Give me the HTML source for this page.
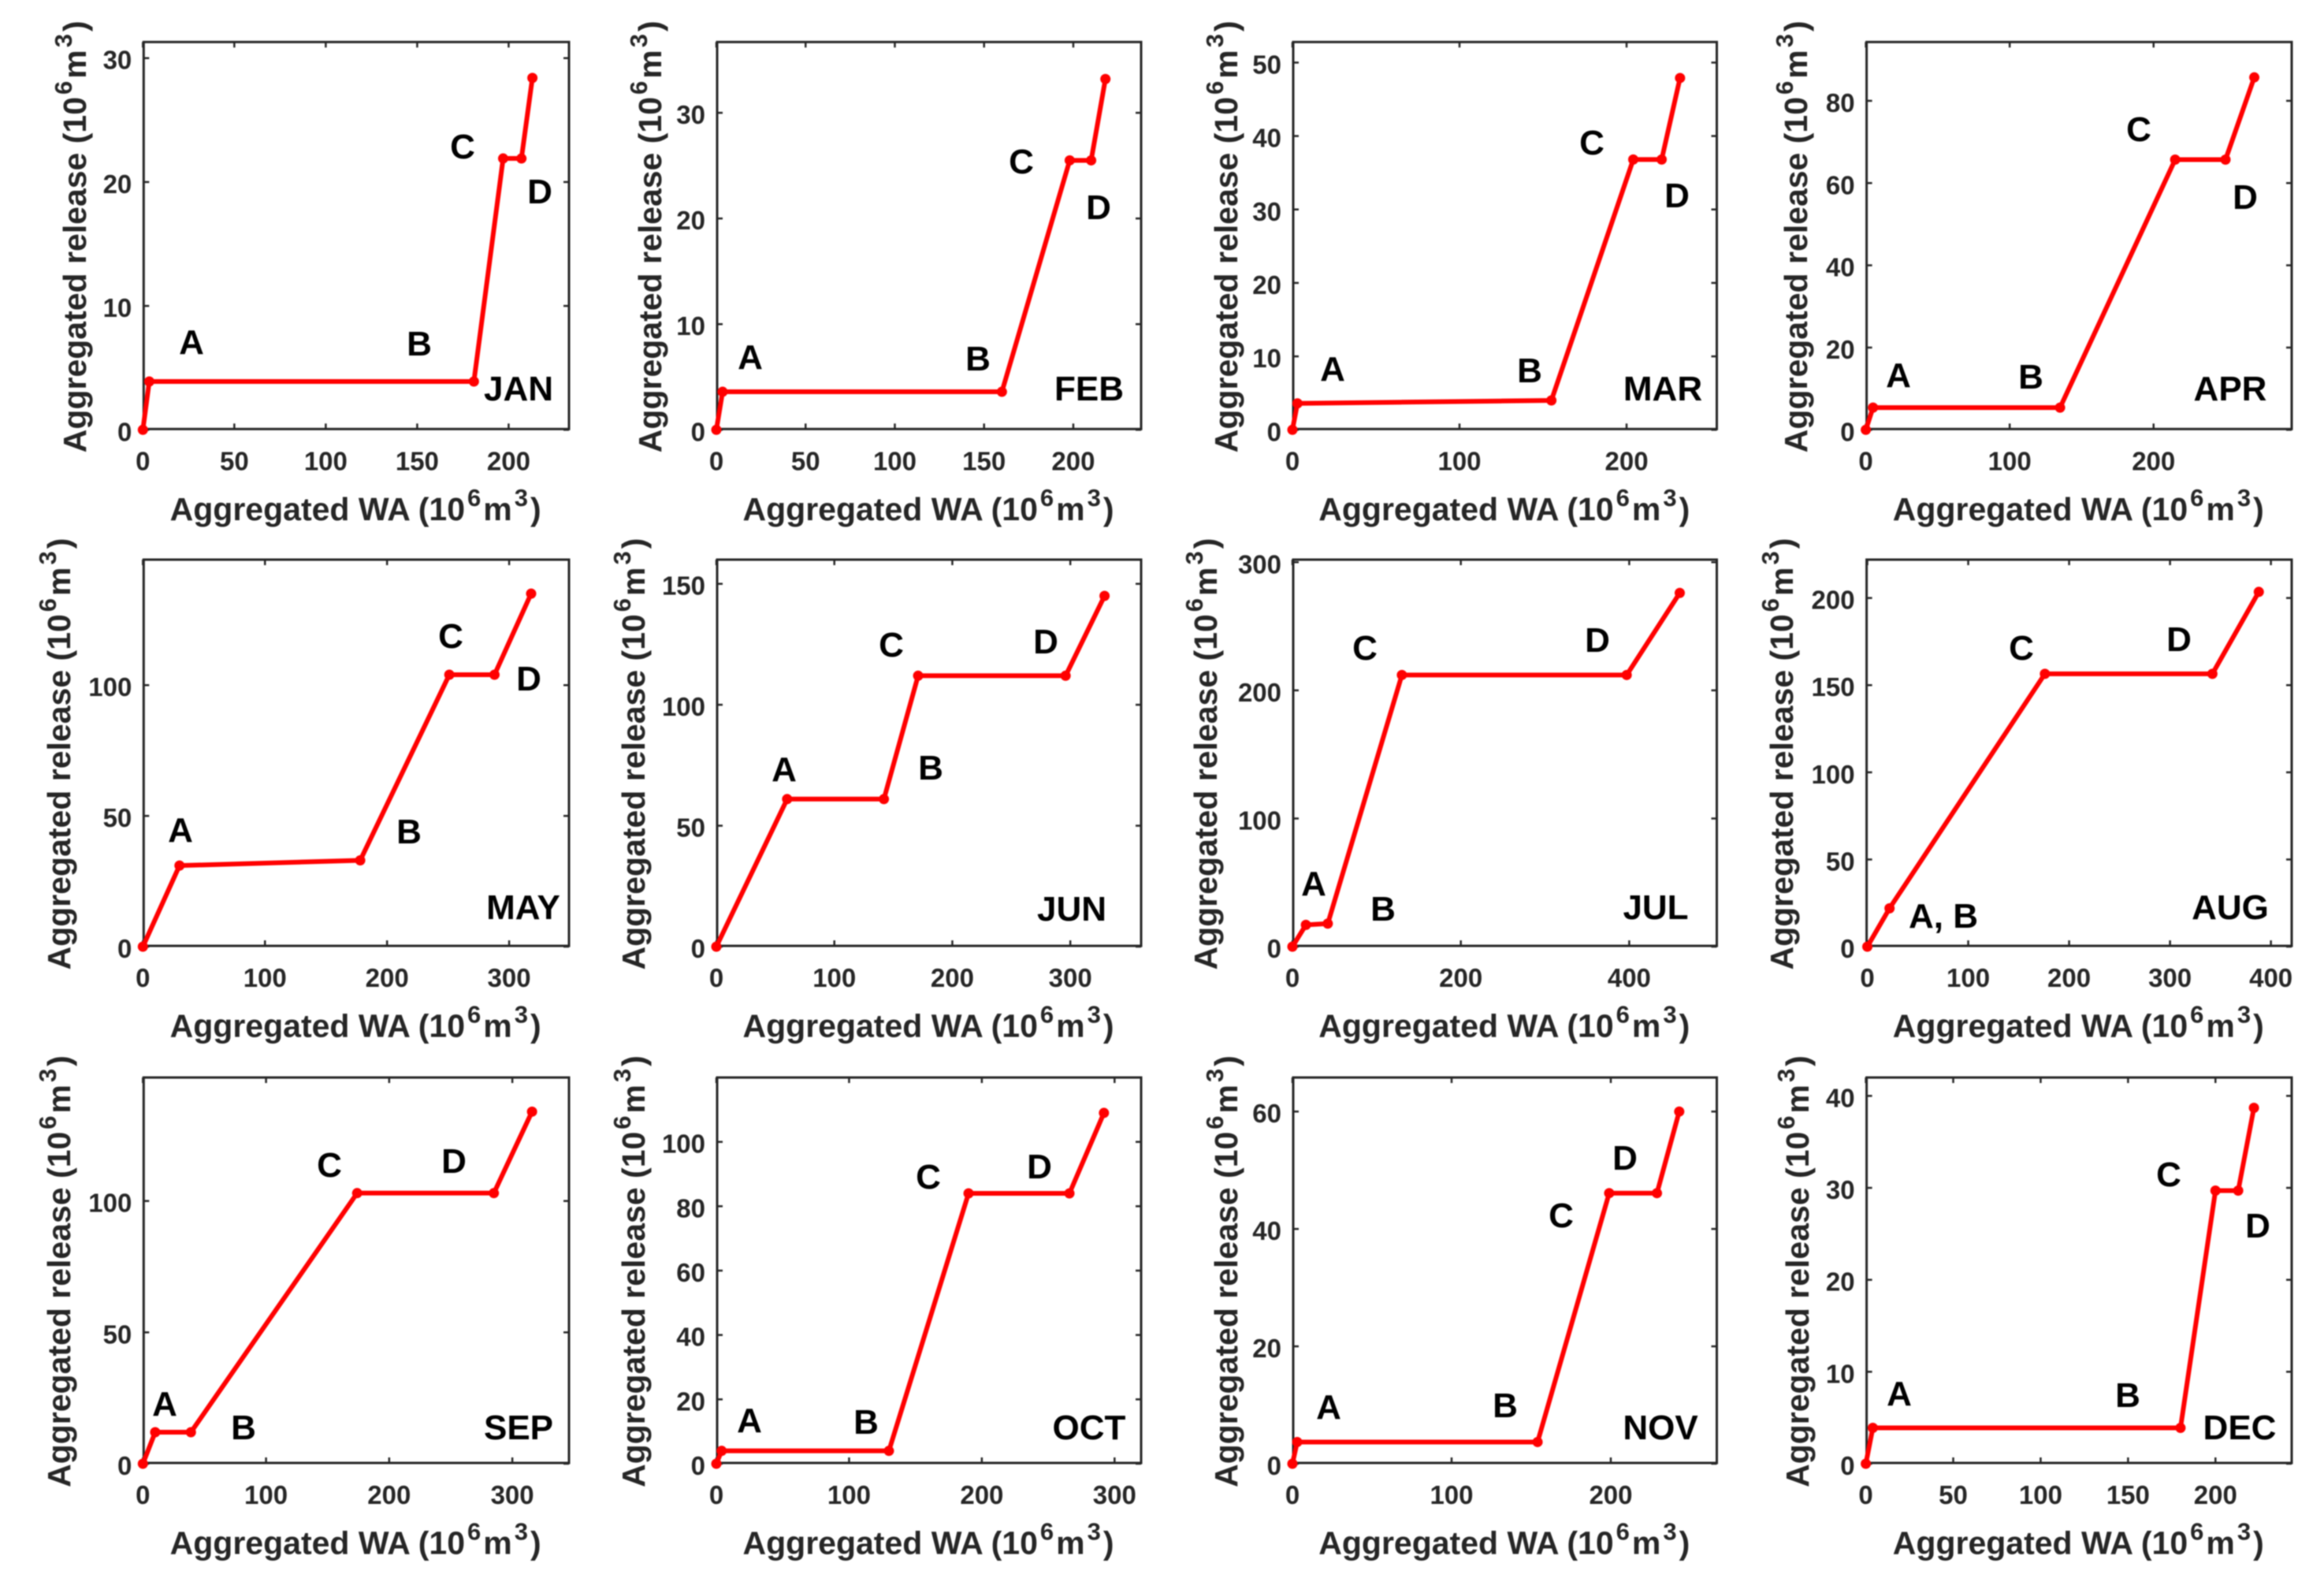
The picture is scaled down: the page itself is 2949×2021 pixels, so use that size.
<!DOCTYPE html>
<html lang="en">
<head>
<meta charset="utf-8">
<title>Aggregated release vs aggregated WA by month</title>
<style>
html,body{margin:0;padding:0;background:#fff;width:2949px;height:2021px;overflow:hidden}
svg{display:block;filter:blur(0.8px)}
text{font-family:"Liberation Sans",Arial,sans-serif;font-weight:700}
.tick{font-size:33px;fill:#262626}
.title{font-size:41px;fill:#262626}
.note{font-size:44px;fill:#000;text-anchor:middle}
</style>
</head>
<body>
<svg id="figure" xmlns="http://www.w3.org/2000/svg" width="2949" height="2021" viewBox="0 0 2949 2021">
<rect x="0" y="0" width="2949" height="2021" fill="#fff"/>
<g id="charts"></g>
<g>
<text class="note" x="243" y="449">A</text>
<text class="note" x="532" y="451">B</text>
<text class="note" x="587" y="201">C</text>
<text class="note" x="685" y="258">D</text>
<text class="note" x="658" y="508">JAN</text>
</g>
<g>
<text class="note" x="952" y="468">A</text>
<text class="note" x="1241" y="470">B</text>
<text class="note" x="1296" y="220">C</text>
<text class="note" x="1394" y="278">D</text>
<text class="note" x="1382" y="508">FEB</text>
</g>
<g>
<text class="note" x="1691" y="483">A</text>
<text class="note" x="1941" y="485">B</text>
<text class="note" x="2020" y="196">C</text>
<text class="note" x="2128" y="263">D</text>
<text class="note" x="2110" y="508">MAR</text>
</g>
<g>
<text class="note" x="2409" y="491">A</text>
<text class="note" x="2577" y="493">B</text>
<text class="note" x="2714" y="179">C</text>
<text class="note" x="2849" y="265">D</text>
<text class="note" x="2830" y="508">APR</text>
</g>
<g>
<text class="note" x="229" y="1068">A</text>
<text class="note" x="519" y="1070">B</text>
<text class="note" x="572" y="822">C</text>
<text class="note" x="671" y="876">D</text>
<text class="note" x="664" y="1166">MAY</text>
</g>
<g>
<text class="note" x="995" y="991">A</text>
<text class="note" x="1181" y="989">B</text>
<text class="note" x="1131" y="833">C</text>
<text class="note" x="1327" y="829">D</text>
<text class="note" x="1360" y="1168">JUN</text>
</g>
<g>
<text class="note" x="1667" y="1136">A</text>
<text class="note" x="1755" y="1168">B</text>
<text class="note" x="1732" y="837">C</text>
<text class="note" x="2027" y="827">D</text>
<text class="note" x="2101" y="1166">JUL</text>
</g>
<g>
<text class="note" x="2466" y="1177">A, B</text>
<text class="note" x="2565" y="837">C</text>
<text class="note" x="2765" y="826">D</text>
<text class="note" x="2830" y="1166">AUG</text>
</g>
<g>
<text class="note" x="209" y="1796">A</text>
<text class="note" x="309" y="1826">B</text>
<text class="note" x="418" y="1493">C</text>
<text class="note" x="576" y="1488">D</text>
<text class="note" x="658" y="1826">SEP</text>
</g>
<g>
<text class="note" x="951" y="1817">A</text>
<text class="note" x="1099" y="1819">B</text>
<text class="note" x="1178" y="1508">C</text>
<text class="note" x="1319" y="1495">D</text>
<text class="note" x="1382" y="1826">OCT</text>
</g>
<g>
<text class="note" x="1686" y="1800">A</text>
<text class="note" x="1910" y="1798">B</text>
<text class="note" x="1981" y="1557">C</text>
<text class="note" x="2062" y="1484">D</text>
<text class="note" x="2107" y="1826">NOV</text>
</g>
<g>
<text class="note" x="2410" y="1783">A</text>
<text class="note" x="2700" y="1785">B</text>
<text class="note" x="2752" y="1505">C</text>
<text class="note" x="2865" y="1570">D</text>
<text class="note" x="2842" y="1826">DEC</text>
</g>
</svg>
<script>
// Series values
const janX = [0, 3.5, 181, 197, 207, 213];
const janY = [0, 3.9, 3.9, 21.9, 21.9, 28.4];
const janXTicks = [0, 50, 100, 150, 200];
const janYTicks = [0, 10, 20, 30];
const janXLim = [0, 233];
const janYLim = [0, 31.3];

const febX = [0, 3.5, 160, 198, 210, 218];
const febY = [0, 3.6, 3.6, 25.5, 25.5, 33.2];
const febXTicks = [0, 50, 100, 150, 200];
const febYTicks = [0, 10, 20, 30];
const febXLim = [0, 238];
const febYLim = [0, 36.7];

const marX = [0, 3, 155, 204, 221, 232];
const marY = [0, 3.6, 4, 36.8, 36.8, 47.9];
const marXTicks = [0, 100, 200];
const marYTicks = [0, 10, 20, 30, 40, 50];
const marXLim = [0, 254];
const marYLim = [0, 52.8];

const aprX = [0, 5, 135, 215, 250, 270];
const aprY = [0, 5.4, 5.4, 65.7, 65.7, 85.7];
const aprXTicks = [0, 100, 200];
const aprYTicks = [0, 20, 40, 60, 80];
const aprXLim = [0, 296];
const aprYLim = [0, 94.3];

const mayX = [0, 30, 178, 251, 288, 318];
const mayY = [0, 31, 33, 104, 104, 135];
const mayXTicks = [0, 100, 200, 300];
const mayYTicks = [0, 50, 100];
const mayXLim = [0, 349];
const mayYLim = [0, 148];

const junX = [0, 60, 142, 171, 296, 329];
const junY = [0, 61, 61, 112, 112, 145];
const junXTicks = [0, 100, 200, 300];
const junYTicks = [0, 50, 100, 150];
const junXLim = [0, 360];
const junYLim = [0, 160];

const julX = [0, 16, 42, 130, 397, 460];
const julY = [0, 17, 18, 212, 212, 276];
const julXTicks = [0, 200, 400];
const julYTicks = [0, 100, 200, 300];
const julXLim = [0, 504];
const julYLim = [0, 302];

const augX = [0, 22, 176, 342, 388];
const augY = [0, 22, 156.5, 156.5, 203.5];
const augXTicks = [0, 100, 200, 300, 400];
const augYTicks = [0, 50, 100, 150, 200];
const augXLim = [-1.5, 420.6];
const augYLim = [0, 222];

const sepX = [0, 10, 39, 174, 285, 316];
const sepY = [0, 12, 12, 103, 103, 134];
const sepXTicks = [0, 100, 200, 300];
const sepYTicks = [0, 50, 100];
const sepXLim = [0, 346];
const sepYLim = [0, 147];

const octX = [0, 4, 130, 190, 266, 292];
const octY = [0, 4, 4, 84, 84, 109];
const octXTicks = [0, 100, 200, 300];
const octYTicks = [0, 20, 40, 60, 80, 100];
const octXLim = [0, 320];
const octYLim = [0, 120];

const novX = [0, 3, 154, 199, 229, 243];
const novY = [0, 3.7, 3.7, 46.1, 46.1, 60];
const novXTicks = [0, 100, 200];
const novYTicks = [0, 20, 40, 60];
const novXLim = [0, 266.6];
const novYLim = [0, 65.8];

const decX = [0, 4, 180, 200, 213, 222];
const decY = [0, 3.9, 3.9, 29.7, 29.7, 38.7];
const decXTicks = [0, 50, 100, 150, 200];
const decYTicks = [0, 10, 20, 30, 40];
const decXLim = [0, 243.6];
const decYLim = [0, 42];

const panels = [
  {m:'jan',x:janX,y:janY,xt:janXTicks,yt:janYTicks,xl:janXLim,yl:janYLim,c:0,r:0,t:109},
  {m:'feb',x:febX,y:febY,xt:febXTicks,yt:febYTicks,xl:febXLim,yl:febYLim,c:1,r:0,t:839},
  {m:'mar',x:marX,y:marY,xt:marXTicks,yt:marYTicks,xl:marXLim,yl:marYLim,c:2,r:0,t:1570},
  {m:'apr',x:aprX,y:aprY,xt:aprXTicks,yt:aprYTicks,xl:aprXLim,yl:aprYLim,c:3,r:0,t:2293},
  {m:'may',x:mayX,y:mayY,xt:mayXTicks,yt:mayYTicks,xl:mayXLim,yl:mayYLim,c:0,r:1,t:89},
  {m:'jun',x:junX,y:junY,xt:junXTicks,yt:junYTicks,xl:junXLim,yl:junYLim,c:1,r:1,t:818},
  {m:'jul',x:julX,y:julY,xt:julXTicks,yt:julYTicks,xl:julXLim,yl:julYLim,c:2,r:1,t:1544},
  {m:'aug',x:augX,y:augY,xt:augXTicks,yt:augYTicks,xl:augXLim,yl:augYLim,c:3,r:1,t:2275},
  {m:'sep',x:sepX,y:sepY,xt:sepXTicks,yt:sepYTicks,xl:sepXLim,yl:sepYLim,c:0,r:2,t:89},
  {m:'oct',x:octX,y:octY,xt:octXTicks,yt:octYTicks,xl:octXLim,yl:octYLim,c:1,r:2,t:818},
  {m:'nov',x:novX,y:novY,xt:novXTicks,yt:novYTicks,xl:novXLim,yl:novYLim,c:2,r:2,t:1570},
  {m:'dec',x:decX,y:decY,xt:decXTicks,yt:decYTicks,xl:decXLim,yl:decYLim,c:3,r:2,t:2295}
];

const colLeft = [182.3, 910, 1641, 2368.6];
const colRight = [722, 1448, 2178.5, 2908];
const rowTop = [53.3, 710, 1367];
const rowBottom = [544.3, 1200, 1856];

const NS = 'http://www.w3.org/2000/svg';
const root = document.getElementById('charts');

function make(parent, tag, attrs) {
  const el = document.createElementNS(NS, tag);
  for (const k in attrs) el.setAttribute(k, attrs[k]);
  parent.appendChild(el);
  return el;
}

function addSpan(parent, str, dx, dy, small) {
  const s = document.createElementNS(NS, 'tspan');
  if (dx) s.setAttribute('dx', dx);
  if (dy) s.setAttribute('dy', dy);
  if (small) s.setAttribute('font-size', '31');
  s.textContent = str;
  parent.appendChild(s);
}

function fillUnits(textEl, lead) {
  addSpan(textEl, lead + ' (10', 0, 0, false);
  addSpan(textEl, '6', 3, -18, true);
  addSpan(textEl, 'm', 3, 18, false);
  addSpan(textEl, '3', 3, -18, true);
  addSpan(textEl, ')', 3, 18, false);
}

panels.forEach(function (p) {
  const L = colLeft[p.c], R = colRight[p.c], T = rowTop[p.r], B = rowBottom[p.r];
  // Origin of the data frame sits about a pixel outside the drawn box in the source image
  const x0 = L - 1, y0 = B + 1;
  const sx = function (v) { return x0 + (v - p.xl[0]) / (p.xl[1] - p.xl[0]) * (R - x0); };
  const sy = function (v) { return y0 - (v - p.yl[0]) / (p.yl[1] - p.yl[0]) * (y0 - T); };

  const g = make(root, 'g', {});
  
  

  const box = make(g, 'rect', {x: L, y: T, width: R - L, height: B - T, fill: '#fff', stroke: '#262626', 'stroke-width': 3});
  
  

  p.xt.forEach(function (v) {
    const x = sx(v);
    const t1 = make(g, 'line', {x1: x, x2: x, y1: B, y2: B - 7, stroke: '#262626', 'stroke-width': 2.5});
    
    
    const t2 = make(g, 'line', {x1: x, x2: x, y1: T, y2: T + 7, stroke: '#262626', 'stroke-width': 2.5});
    
    
    const lab = make(g, 'text', {class: 'tick', x: x, y: B + 52, 'text-anchor': 'middle'});
    
    
    lab.textContent = v;
  });

  p.yt.forEach(function (v) {
    const y = sy(v);
    const t1 = make(g, 'line', {x1: L, x2: L + 7, y1: y, y2: y, stroke: '#262626', 'stroke-width': 2.5});
    
    
    const t2 = make(g, 'line', {x1: R, x2: R - 7, y1: y, y2: y, stroke: '#262626', 'stroke-width': 2.5});
    
    
    const lab = make(g, 'text', {class: 'tick', x: L - 15, y: y + 14, 'text-anchor': 'end'});
    
    
    lab.textContent = v;
  });

  const pts = p.x.map(function (v, i) { return sx(v) + ',' + sy(p.y[i]); }).join(' ');
  const line = make(g, 'polyline', {points: pts, fill: 'none', stroke: '#ff0000', 'stroke-width': 6, 'stroke-linejoin': 'round'});
  
  

  p.x.forEach(function (v, i) {
    const dot = make(g, 'circle', {cx: sx(v), cy: sy(p.y[i]), r: 6.5, fill: '#ff0000'});
    
    
  });

  const xt = make(g, 'text', {class: 'title', x: (L + R) / 2 - 1, y: B + 115.5, 'text-anchor': 'middle'});
  
  
  fillUnits(xt, 'Aggregated WA');

  const cy = (T + B) / 2 + 1.5;
  const yt = make(g, 'text', {class: 'title', x: 0, y: 0, 'text-anchor': 'middle', transform: 'translate(' + p.t + ',' + cy + ') rotate(-90)'});
  
  
  fillUnits(yt, 'Aggregated release');
});
</script>
</body>
</html>
